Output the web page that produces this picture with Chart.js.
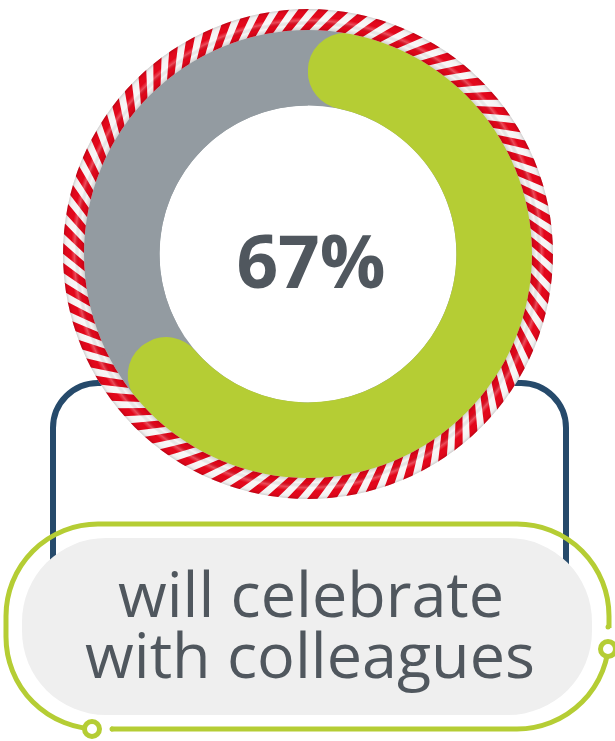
<!DOCTYPE html>
<html>
<head>
<meta charset="utf-8">
<script src="https://cdn.jsdelivr.net/npm/chart.js@4.4.1/dist/chart.umd.min.js"></script>
<style>
  html, body { margin: 0; padding: 0; background: #ffffff; }
  #wrap { width: 615px; height: 741px; position: relative; }
</style>
</head>
<body>
<div id="wrap"><canvas id="c" width="615" height="741"></canvas></div>
<script>
// ---- data ----
const categories = ['will celebrate with colleagues', 'other'];
const values = [67, 33];
const captionLines = ['will celebrate', 'with colleagues'];

// ---- styles ----
const GREEN = '#b5cd34';
const GRAY = '#939ba1';
const NAVY = '#264a6b';
const PILL = '#efefef';
const TEXT = '#50575e';
const RED = '#e3061a';

const decorPlugin = {
  id: 'decor',
  beforeDatasetsDraw(chart) {
    const ctx = chart.ctx;
    const arc = chart.getDatasetMeta(0).data[0];
    const cx = arc.x, cy = arc.y;
    ctx.save();
    // navy bracket (goes behind ring)
    ctx.strokeStyle = NAVY;
    ctx.lineWidth = 6;
    ctx.lineCap = 'butt';
    const yTop = 383, rC = 45;
    ctx.beginPath();
    ctx.moveTo(cx - 120, yTop);
    ctx.lineTo(53 + rC, yTop);
    ctx.arcTo(53, yTop, 53, yTop + rC, rC);
    ctx.lineTo(53, 600);
    ctx.stroke();
    ctx.beginPath();
    ctx.moveTo(cx + 120, yTop);
    ctx.lineTo(566 - rC, yTop);
    ctx.arcTo(566, yTop, 566, yTop + rC, rC);
    ctx.lineTo(566, 600);
    ctx.stroke();

    // green outline
    ctx.strokeStyle = GREEN;
    ctx.lineWidth = 5;
    ctx.beginPath();
    ctx.roundRect(6, 524, 603, 205, 92);
    ctx.stroke();
    // gaps
    ctx.fillStyle = '#ffffff';
    ctx.fillRect(600, 628, 16, 14);
    ctx.fillRect(100, 720, 11, 16);
    // connector circles
    ctx.lineWidth = 5;
    [[608, 649], [92, 729]].forEach(([x, y]) => {
      ctx.beginPath();
      ctx.arc(x, y, 7.5, 0, Math.PI * 2);
      ctx.fillStyle = '#ffffff';
      ctx.fill();
      ctx.stroke();
    });
    ctx.fillStyle = GREEN;
    ctx.beginPath(); ctx.arc(608, 627, 2.5, 0, Math.PI * 2); ctx.fill();
    ctx.beginPath(); ctx.arc(112, 729, 2.5, 0, Math.PI * 2); ctx.fill();

    // gray pill
    ctx.fillStyle = PILL;
    ctx.beginPath();
    ctx.roundRect(22, 538, 570, 177, 84);
    ctx.fill();

    // caption text
    ctx.fillStyle = TEXT;
    ctx.textAlign = 'center';
    ctx.textBaseline = 'alphabetic';
    let fs = 56;
    ctx.font = '400 ' + fs + 'px "Open Sans"';
    const w2 = ctx.measureText(captionLines[1]).width;
    fs = fs * 450 / w2;
    ctx.font = '400 ' + fs.toFixed(1) + 'px "Open Sans"';
    ctx.fillText(captionLines[0], 311, 617);
    ctx.fillText(captionLines[1], 310, 678);

    // full gray track
    ctx.fillStyle = GRAY;
    ctx.beginPath();
    ctx.arc(cx, cy, arc.outerRadius, 0, Math.PI * 2);
    ctx.arc(cx, cy, arc.innerRadius, 0, Math.PI * 2, true);
    ctx.fill();
    ctx.restore();
  },
  afterDatasetsDraw(chart) {
    const ctx = chart.ctx;
    const arc = chart.getDatasetMeta(0).data[0];
    const cx = arc.x, cy = arc.y;
    const r1 = arc.outerRadius - 1, r2 = arc.outerRadius + 20;
    ctx.save();
    ctx.beginPath();
    ctx.arc(cx, cy, r2, 0, Math.PI * 2);
    ctx.arc(cx, cy, r1, 0, Math.PI * 2, true);
    ctx.clip();
    ctx.fillStyle = '#f7f5f5';
    ctx.fillRect(cx - r2 - 2, cy - r2 - 2, 2 * r2 + 4, 2 * r2 + 4);
    // red helical stripes
    const N = 78;
    const rm = (r1 + r2) / 2;
    const shift = 20 / rm;
    const sw = 10 / rm;
    ctx.fillStyle = RED;
    for (let k = 0; k < N; k++) {
      const t0 = k * Math.PI * 2 / N;
      ctx.beginPath();
      ctx.arc(cx, cy, r1 - 1, t0, t0 + sw);
      ctx.arc(cx, cy, r2 + 1, t0 + sw + shift, t0 + shift, true);
      ctx.closePath();
      ctx.fill();
    }
    // tube shading
    const g = ctx.createRadialGradient(cx, cy, r1, cx, cy, r2);
    g.addColorStop(0, 'rgba(0,0,0,0.14)');
    g.addColorStop(0.22, 'rgba(0,0,0,0.0)');
    g.addColorStop(0.45, 'rgba(255,255,255,0.28)');
    g.addColorStop(0.62, 'rgba(255,255,255,0.0)');
    g.addColorStop(0.88, 'rgba(0,0,0,0.03)');
    g.addColorStop(1, 'rgba(0,0,0,0.16)');
    ctx.fillStyle = g;
    ctx.fillRect(cx - r2 - 2, cy - r2 - 2, 2 * r2 + 4, 2 * r2 + 4);
    ctx.restore();

    // percent label
    ctx.save();
    ctx.fillStyle = TEXT;
    ctx.textAlign = 'center';
    ctx.textBaseline = 'alphabetic';
    ctx.font = '700 73px "Open Sans"';
    ctx.fillText(values[0] + '%', cx + 3, 288);
    ctx.restore();
  }
};

new Chart(document.getElementById('c'), {
  type: 'doughnut',
  data: {
    labels: categories,
    datasets: [{
      data: values,
      backgroundColor: [GREEN, GRAY],
      borderWidth: 0,
      borderRadius: (c) => c.dataIndex === 0 ? 38 : 0
    }]
  },
  options: {
    responsive: false,
    animation: false,
    events: [],
    cutout: '66%',
    layout: { padding: { left: 83, right: 82, top: 29, bottom: 262 } },
    plugins: { legend: { display: false }, tooltip: { enabled: false } }
  },
  plugins: [decorPlugin]
});
</script>
</body>
</html>
